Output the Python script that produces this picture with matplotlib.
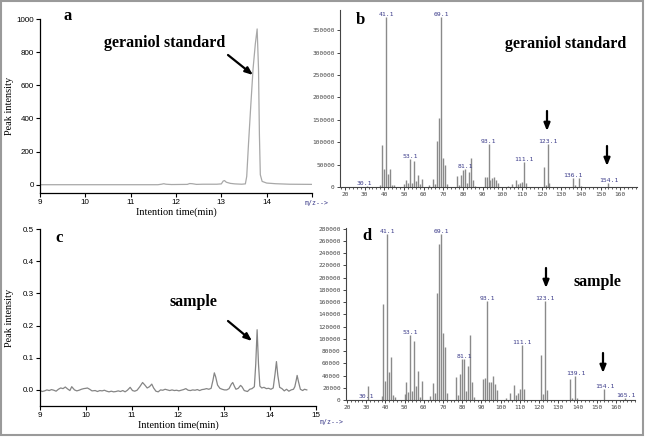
import matplotlib
matplotlib.use("Agg")
import matplotlib.pyplot as plt
from matplotlib.patches import Rectangle
from matplotlib.ticker import MultipleLocator

W, H = 646, 437

# ---- chromatogram a (geraniol standard) ----
a_time = [9.0, 11.6, 11.68, 11.73, 11.78, 11.9, 12.25, 12.3, 12.36, 12.45, 12.6, 12.9, 13.0,
          13.04, 13.07, 13.11, 13.2, 13.3, 13.45, 13.53, 13.56, 13.6, 13.65, 13.7, 13.75,
          13.79, 13.82, 13.84, 13.86, 13.9, 14.0, 14.2, 14.5, 15.0]
a_int = [0, 0, 3, 6, 3, 1, 2, 7, 6, 2, 3, 3, 5,
         22, 25, 15, 8, 5, 3, 5, 50, 250, 480, 700, 850,
         940, 700, 300, 60, 20, 10, 6, 3, 2]

# ---- chromatogram c (sample) ----
c_time = [9.0, 9.05, 9.1, 9.15, 9.2, 9.25, 9.3, 9.35, 9.4, 9.45,
          9.5, 9.55, 9.6, 9.65, 9.69, 9.75, 9.8, 9.85, 9.9, 9.95,
          10.0, 10.03, 10.08, 10.13, 10.2, 10.25, 10.3, 10.35, 10.4, 10.45,
          10.5, 10.55, 10.6, 10.65, 10.7, 10.75, 10.8, 10.85, 10.9, 10.96,
          11.01, 11.06, 11.11, 11.17, 11.23, 11.28, 11.33, 11.38, 11.43, 11.47,
          11.52, 11.57, 11.62, 11.67, 11.72, 11.77, 11.82, 11.87, 11.92, 11.97,
          12.02, 12.07, 12.12, 12.17, 12.22, 12.27, 12.32, 12.37, 12.42, 12.47,
          12.52, 12.57, 12.62, 12.67, 12.72, 12.76, 12.79, 12.82, 12.86, 12.91,
          12.96, 13.01, 13.06, 13.11, 13.16, 13.19, 13.23, 13.26, 13.31, 13.36,
          13.39, 13.44, 13.51, 13.56, 13.61, 13.66, 13.69, 13.72, 13.75, 13.78,
          13.82, 13.87, 13.92, 13.97, 14.02, 14.07, 14.11, 14.14, 14.17, 14.21,
          14.26, 14.31, 14.36, 14.41, 14.46, 14.51, 14.54, 14.57, 14.59, 14.62,
          14.66, 14.71, 14.75, 14.8]
c_int = [-0.002, -0.005, -0.003, 0.000, -0.002, 0.001, -0.001, -0.004, 0.002, 0.006,
         0.004, 0.009, 0.003, -0.002, 0.010, 0.000, -0.003, -0.001, 0.002, 0.004,
         0.005, 0.006, 0.002, -0.003, -0.002, -0.005, -0.002, -0.003, -0.001, -0.004,
         -0.006, -0.004, -0.006, -0.005, -0.003, -0.005, -0.002, -0.006, -0.001, 0.008,
         -0.002, -0.004, -0.001, 0.010, 0.023, 0.015, 0.006, 0.010, 0.018, 0.006,
         -0.004, -0.006, 0.000, -0.001, 0.002, 0.000, -0.002, 0.000, -0.002, -0.001,
         -0.003, -0.001, 0.001, 0.004, -0.001, -0.002, 0.000, -0.001, 0.001, -0.002,
         0.001, 0.002, 0.004, 0.002, 0.005, 0.030, 0.053, 0.040, 0.015, 0.005,
         0.002, 0.000, 0.000, 0.004, 0.018, 0.023, 0.010, 0.002, 0.005, 0.014,
         0.010, -0.002, -0.005, 0.002, 0.004, 0.010, 0.080, 0.187, 0.080, 0.012,
         0.006, 0.008, 0.004, 0.005, 0.002, 0.006, 0.050, 0.088, 0.045, 0.008,
         0.004, -0.003, 0.002, -0.004, 0.000, 0.002, 0.010, 0.030, 0.045, 0.025,
         0.002, -0.002, 0.002, 0.000]

# ---- mass spectrum b (geraniol standard) ----
b_mz = [31, 38, 39, 40, 41, 42, 43, 44, 45, 50, 51, 52, 53, 54, 55, 56, 57, 58, 59, 63,
        65, 66, 67, 68, 69, 70, 71, 72, 77, 78, 79, 80, 81, 82, 83, 84, 85, 86, 91, 92,
        93, 94, 95, 96, 97, 98, 103, 105, 107, 108, 109, 110, 111, 112, 121, 122, 123,
        124, 136, 137, 139, 140, 154]
b_int = [2000, 5000, 93000, 40000, 380000, 29000, 40000, 5000, 5000, 6600, 15500, 9000,
         62000, 10000, 57600, 14000, 27000, 6600, 18500, 5000, 17700, 7400, 103000,
         154000, 380000, 64000, 49500, 7400, 23600, 4400, 26000, 37000, 40600, 10000,
         34000, 65000, 16000, 3000, 23000, 23000, 96000, 16000, 19000, 23000, 16000,
         10000, 2000, 7400, 16000, 6000, 9000, 12000, 55000, 9600, 44000, 5000, 95000,
         9000, 21000, 4400, 21000, 3000, 9000]
b_labels = ["30.1", "41.1", "53.1", "69.1", "81.1", "93.1", "111.1", "123.1", "136.1", "154.1"]
b_label_mz = [30.1, 41.1, 53.1, 69.1, 81.1, 93.1, 111.1, 123.1, 136.1, 154.1]
b_label_y = [2000, 380000, 62000, 380000, 40600, 96000, 55000, 95000, 21000, 9000]

# ---- mass spectrum d (sample) ----
d_mz = [31, 38, 39, 40, 41, 42, 43, 44, 45, 50, 51, 52, 53, 54, 55, 56, 57, 58, 59, 63,
        65, 66, 67, 68, 69, 70, 71, 72, 77, 78, 79, 80, 81, 82, 83, 84, 85, 86, 91, 92,
        93, 94, 95, 96, 97, 98, 103, 105, 107, 108, 109, 110, 111, 112, 121, 122, 123,
        124, 136, 137, 139, 140, 154, 165]
d_int = [23000, 6600, 156500, 31300, 272000, 45600, 69700, 8200, 5500, 9300, 29000, 13700,
         107000, 15400, 96000, 23000, 46700, 5500, 31800, 7100, 28500, 12000, 174600,
         255000, 272000, 108700, 86000, 12000, 36800, 8200, 42800, 67500, 67500, 15400,
         55000, 106000, 29000, 5500, 35000, 35700, 162000, 29000, 29000, 38400, 26000,
         17000, 2700, 11500, 24700, 8200, 12000, 18600, 89500, 17500, 74000, 9900, 161000,
         16500, 34600, 3800, 38400, 3800, 17500, 2700]
d_labels = ["30.1", "41.1", "53.1", "69.1", "81.1", "93.1", "111.1", "123.1", "139.1", "154.1", "165.1"]
d_label_mz = [30.1, 41.1, 53.1, 69.1, 81.1, 93.1, 111.1, 123.1, 139.1, 154.1, 165.1]
d_label_y = [2000, 272000, 107000, 272000, 67500, 162000, 89500, 161000, 38400, 17500, 2700]


def box(l, t, r, b):
    return [l / W, 1 - b / H, (r - l) / W, (b - t) / H]


def fpos(x, y):
    return x / W, 1 - y / H


serif = "Liberation Serif"
sans = "Liberation Sans"
mono = "DejaVu Sans Mono"
lab_col = "#3c3c8a"

fig = plt.figure(figsize=(W / 100, H / 100), dpi=100)


def chrom_axes(rect, t, v, ylim, yticks, fmt, color):
    ax = fig.add_axes(rect)
    ax.plot(t, v, color=color, lw=0.9)
    ax.set_xlim(9, 15)
    ax.set_ylim(*ylim)
    ax.set_yticks(yticks)
    ax.set_yticklabels([fmt.format(y) for y in yticks])
    for s in ["top", "right"]:
        ax.spines[s].set_visible(False)
    for s in ["left", "bottom"]:
        ax.spines[s].set_linewidth(0.9)
    ax.spines["left"].set_bounds(ylim[0], yticks[-1])
    ax.tick_params(labelsize=5.8, length=3, width=0.8, pad=1.5)
    for lb in ax.get_xticklabels() + ax.get_yticklabels():
        lb.set_family(sans)
    ax.set_xlabel("Intention time(min)", fontsize=7.4, family=serif, labelpad=1)
    ax.set_ylabel("Peak intensity", fontsize=7.4, family=serif)
    ax.yaxis.set_label_coords(-0.095, 0.5)
    return ax


ax_a = chrom_axes(box(40, 19, 312, 193), a_time, a_int, (-50, 1000),
                  [0, 200, 400, 600, 800, 1000], "{:d}", "#a8a8a8")
ax_a.set_xticks([9, 10, 11, 12, 13, 14, 15])
ax_a.set_xticklabels(["9", "10", "11", "12", "13", "14", ""], family=sans)

ax_c = chrom_axes(box(40, 229, 316, 406), c_time, c_int, (-0.05, 0.5),
                  [0.0, 0.1, 0.2, 0.3, 0.4, 0.5], "{:.1f}", "#858585")
ax_c.set_xticks([9, 10, 11, 12, 13, 14, 15])
ax_c.set_xticklabels(["9", "10", "11", "12", "13", "14", "15"], family=sans)


def ms_axes(rect, mz, inten, ylim, ystep, xlim, labels, label_mz, label_y):
    ax = fig.add_axes(rect)
    ax.vlines(mz, 0, inten, color="#8a8a8a", lw=1.0)
    ax.set_xlim(*xlim)
    ax.set_ylim(*ylim)
    ax.xaxis.set_minor_locator(MultipleLocator(2))
    ax.yaxis.set_major_locator(MultipleLocator(ystep))
    ax.set_xticks(range(20, 170, 10))
    for s in ["top", "right"]:
        ax.spines[s].set_visible(False)
    for s in ["left", "bottom"]:
        ax.spines[s].set_linewidth(0.8)
        ax.spines[s].set_color("#444444")
    ax.tick_params(labelsize=4.4, length=2.5, width=0.7, pad=1.2, colors="#444444")
    ax.tick_params(which="minor", length=1.5, width=0.6, colors="#444444")
    for lb in ax.get_xticklabels() + ax.get_yticklabels():
        lb.set_family(mono)
    for txt, x, y in zip(labels, label_mz, label_y):
        ax.text(x, y, txt, fontsize=4.6, family=mono, color=lab_col,
                ha="center", va="bottom", clip_on=False)
    return ax


ax_b = ms_axes(box(340, 10, 637, 187), b_mz, b_int, (0, 395000), 50000, (17.5, 168.5),
               b_labels, b_label_mz, b_label_y)
ax_d = ms_axes(box(346, 228, 635, 400), d_mz, d_int, (0, 281000), 20000, (19.5, 170),
               d_labels, d_label_mz, d_label_y)

# m/z labels
for x, y in [(305, 203), (320, 422)]:
    fig.text(*fpos(x, y), "m/z-->", fontsize=4.8, family=mono, color=lab_col, va="center")

# panel letters
for x, y, s in [(63, 16, "a"), (356, 20, "b"), (55, 238, "c"), (362, 236, "d")]:
    fig.text(*fpos(x, y), s, fontsize=12, family=serif, weight="bold", va="center")

# annotation texts
for x, y, s in [(104, 43, "geraniol standard"), (505, 44, "geraniol standard"),
                (169, 302, "sample"), (573, 282, "sample")]:
    fig.text(*fpos(x, y), s, fontsize=11.5, family=serif, weight="bold", va="center")

# arrows
arrows = [((228, 55), (253, 75)), ((228, 321), (252, 341)),
          ((547, 111), (547, 131)), ((607, 146), (607, 166)),
          ((546, 268), (546, 288)), ((603, 353), (603, 373))]
for (x0, y0), (x1, y1) in arrows:
    fig.add_artist(plt.Annotation("", xy=fpos(x1, y1), xytext=fpos(x0, y0),
                                  xycoords="figure fraction", textcoords="figure fraction",
                                  arrowprops=dict(arrowstyle="-|>,head_length=0.45,head_width=0.18",
                                                  color="black", lw=1.6, shrinkA=0, shrinkB=0)))

# outer frame
fig.add_artist(Rectangle((0.002, 0.004), 0.994, 0.993, transform=fig.transFigure,
                         fill=False, edgecolor="#9a9a9a", lw=1.5))

fig.savefig("out.png", dpi=100)
